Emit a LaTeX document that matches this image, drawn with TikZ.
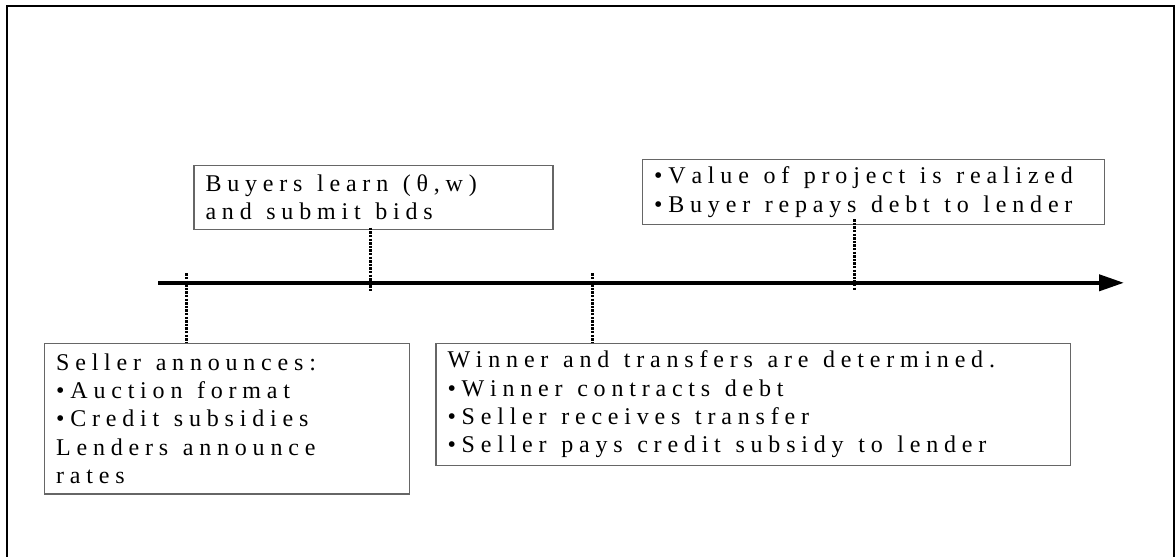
\documentclass[tikz,border=0pt]{standalone}
\usepackage{fontspec}
\setmainfont{Liberation Serif}
\usetikzlibrary{arrows.meta,calc}
\ExplSyntaxOn
\seq_new:N \l__ev_words_seq
\cs_new_protected:Npn \__ev_word:n #1
  { \tl_map_inline:nn {#1} { ##1 \kern 2.9pt } }
\NewDocumentCommand \ls { m }
  {
    \seq_set_split:Nnn \l__ev_words_seq { ~ } {#1}
    \seq_map_indexed_inline:Nn \l__ev_words_seq
      { \int_compare:nNnF {##1} = {1} { \hspace{4.4pt} } \__ev_word:n {##2} }
  }
\ExplSyntaxOff
\newcommand\evfont{\fontsize{12}{14.1}\selectfont}
\begin{document}
\begin{tikzpicture}[x=0.5pt,y=-0.5pt,
  evbox/.style={draw=black!60, line width=0.6pt, anchor=north west, align=left,
    inner xsep=5.8pt, inner ysep=0pt, font=\evfont},
  tickline/.style={line width=1.6pt, dash pattern=on 1.2pt off 0.6pt},
  axisline/.style={line width=2pt, -{Triangle[length=12.5pt,width=8pt]}},
  frameline/.style={line width=1pt}]
\useasboundingbox (0,0) rectangle (1176,556);
\draw[frameline] (6.5,575) -- (6.5,5.7) -- (1173.5,5.7) -- (1173.5,575);

\node[evbox, text width=170.75pt, minimum height=75.3pt] (A) at (44,342.7)
  {\ls{Seller announces:}\\\ls{•Auction format}\\\ls{•Credit subsidies}\\\ls{Lenders announce}\\\ls{rates}};
\node[evbox, text width=167.9pt, minimum height=32.15pt] (B) at (193.3,164.7)
  {\ls{Buyers learn (θ,w)}\\\ls{and submit bids}};
\node[evbox, text width=305.75pt, minimum height=61pt] (C) at (435.3,342.7)
  {\ls{Winner and transfers are determined.}\\\ls{•Winner contracts debt}\\\ls{•Seller receives transfer}\\\ls{•Seller pays credit subsidy to lender}};
\node[evbox, text width=219.4pt, minimum height=32.5pt] (D) at (642,159)
  {\ls{•Value of project is realized}\\\ls{•Buyer repays debt to lender}};

\coordinate (s) at (158,282.8);
\coordinate (e) at (1124,282.8);
\draw[axisline] (s) -- (e);

\coordinate (t1) at (186.6,273.3);
\coordinate (t2) at (370.6,291.7);
\coordinate (t3) at (592.4,273.3);
\coordinate (t4) at (854.4,291);
\draw[tickline] (t1) -- (t1 |- A.north);
\draw[tickline] ($(t2 |- B.south)+(0,-2.5)$) -- (t2);
\draw[tickline] (t3) -- (t3 |- C.north);
\draw[tickline] ($(t4 |- D.south)+(0,-6)$) -- (t4);
\end{tikzpicture}
\end{document}
